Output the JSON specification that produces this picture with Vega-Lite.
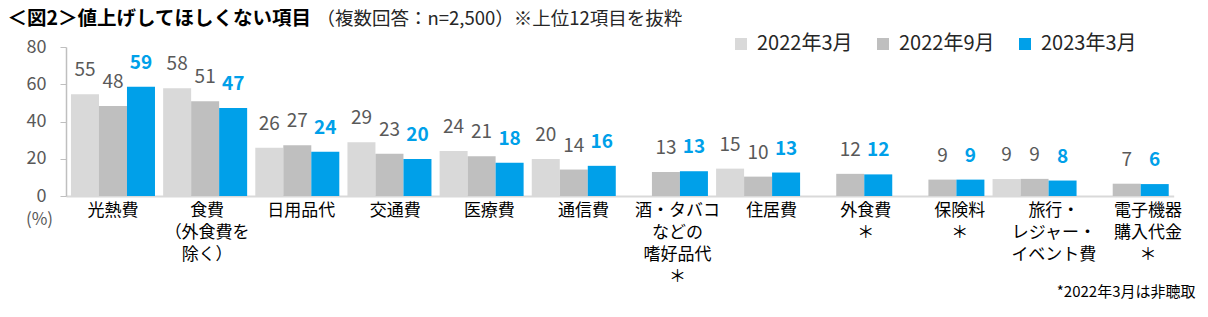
{
  "$schema": "https://vega.github.io/schema/vega-lite/v6.json",
  "width": 1129,
  "height": 149,
  "autosize": {"type": "none"},
  "padding": {"left": 66, "top": 47, "right": 13, "bottom": 121},
  "background": "#ffffff",
  "config": {
    "font": "Noto Sans CJK JP",
    "view": {"stroke": null},
    "axis": {"grid": false},
    "axisY": {"labelOverlap": false, "labelBound": false, "labelFlush": false}
  },
  "data": {
    "values": [
      {"item": "光熱費", "period": "2022年3月", "value": 54.6},
      {"item": "光熱費", "period": "2022年9月", "value": 48.3},
      {"item": "光熱費", "period": "2023年3月", "value": 58.6},
      {"item": "食費|（外食費を|除く）", "period": "2022年3月", "value": 57.9},
      {"item": "食費|（外食費を|除く）", "period": "2022年9月", "value": 50.9},
      {"item": "食費|（外食費を|除く）", "period": "2023年3月", "value": 47.3},
      {"item": "日用品代", "period": "2022年3月", "value": 25.9},
      {"item": "日用品代", "period": "2022年9月", "value": 27.3},
      {"item": "日用品代", "period": "2023年3月", "value": 23.7},
      {"item": "交通費", "period": "2022年3月", "value": 28.9},
      {"item": "交通費", "period": "2022年9月", "value": 22.7},
      {"item": "交通費", "period": "2023年3月", "value": 19.9},
      {"item": "医療費", "period": "2022年3月", "value": 24.2},
      {"item": "医療費", "period": "2022年9月", "value": 21.4},
      {"item": "医療費", "period": "2023年3月", "value": 17.8},
      {"item": "通信費", "period": "2022年3月", "value": 19.9},
      {"item": "通信費", "period": "2022年9月", "value": 14.2},
      {"item": "通信費", "period": "2023年3月", "value": 16.2},
      {"item": "酒・タバコ|などの|嗜好品代|＊", "period": "2022年9月", "value": 12.9},
      {"item": "酒・タバコ|などの|嗜好品代|＊", "period": "2023年3月", "value": 13.3},
      {"item": "住居費", "period": "2022年3月", "value": 14.7},
      {"item": "住居費", "period": "2022年9月", "value": 10.4},
      {"item": "住居費", "period": "2023年3月", "value": 12.6},
      {"item": "外食費|＊", "period": "2022年9月", "value": 11.9},
      {"item": "外食費|＊", "period": "2023年3月", "value": 11.6},
      {"item": "保険料|＊", "period": "2022年9月", "value": 8.8},
      {"item": "保険料|＊", "period": "2023年3月", "value": 8.8},
      {"item": "旅行・|レジャー・|イベント費", "period": "2022年3月", "value": 9.1},
      {"item": "旅行・|レジャー・|イベント費", "period": "2022年9月", "value": 9.2},
      {"item": "旅行・|レジャー・|イベント費", "period": "2023年3月", "value": 8.3},
      {"item": "電子機器|購入代金|＊", "period": "2022年9月", "value": 6.6},
      {"item": "電子機器|購入代金|＊", "period": "2023年3月", "value": 6.4}
    ]
  },
  "resolve": {"scale": {"x": "independent"}, "axis": {"x": "independent", "y": "independent"}},
  "layer": [
    {
      "mark": {"type": "bar"},
      "encoding": {
        "x": {
          "field": "item", "type": "nominal", "sort": null,
          "scale": {
            "domain": ["光熱費", "食費|（外食費を|除く）", "日用品代", "交通費", "医療費", "通信費", "酒・タバコ|などの|嗜好品代|＊", "住居費", "外食費|＊", "保険料|＊", "旅行・|レジャー・|イベント費", "電子機器|購入代金|＊"],
            "range": [0, 1107.7], "paddingInner": 0.0884, "paddingOuter": 0.054
          },
          "axis": {"labels": false, "ticks": false, "domain": true, "domainColor": "#D9D9D9", "domainWidth": 2, "title": null}
        },
        "xOffset": {
          "field": "period", "type": "nominal",
          "scale": {"domain": ["2022年3月", "2022年9月", "2023年3月"], "paddingInner": 0, "paddingOuter": 0}
        },
        "y": {
          "field": "value", "type": "quantitative",
          "scale": {"domain": [0, 80], "nice": false},
          "axis": {
            "values": [0, 20, 40, 60, 80], "tickSize": 6, "tickColor": "#BFBFBF",
            "domainColor": "#BFBFBF", "domainWidth": 1.5, "labelPadding": 14,
            "labelFontSize": 18, "labelColor": "#595959", "labelOverlap": false,
            "labelBound": false, "labelFlush": false,
            "title": "(%)", "titleAngle": 0, "titleX": -27, "titleY": 172,
            "titleAlign": "center", "titleBaseline": "middle", "titleFontSize": 17,
            "titleFontWeight": "normal", "titleColor": "#595959"
          }
        },
        "color": {
          "field": "period", "type": "nominal",
          "scale": {"domain": ["2022年3月", "2022年9月", "2023年3月"], "range": ["#D9D9D9", "#BFBFBF", "#00A0E9"]},
          "legend": {
            "title": null, "orient": "none", "direction": "horizontal",
            "legendX": 665, "legendY": -13, "labelFontSize": 20, "labelColor": "#262626",
            "symbolType": "square", "symbolSize": 144, "symbolStrokeWidth": 0,
            "columnPadding": 20, "labelOffset": 6
          }
        }
      }
    },
    {
      "transform": [{"filter": "datum.period !== '2023年3月'"}],
      "mark": {"type": "text", "baseline": "alphabetic", "dy": -18, "fontSize": 19, "color": "#595959"},
      "encoding": {
        "x": {
          "field": "item", "type": "nominal", "sort": null,
          "scale": {
            "domain": ["光熱費", "食費|（外食費を|除く）", "日用品代", "交通費", "医療費", "通信費", "酒・タバコ|などの|嗜好品代|＊", "住居費", "外食費|＊", "保険料|＊", "旅行・|レジャー・|イベント費", "電子機器|購入代金|＊"],
            "range": [0, 1107.7], "paddingInner": 0.0884, "paddingOuter": 0.054
          },
          "axis": null
        },
        "xOffset": {"field": "period", "type": "nominal"},
        "y": {"field": "value", "type": "quantitative", "axis": null},
        "text": {"field": "value", "type": "quantitative", "format": ".0f"}
      }
    },
    {
      "transform": [{"filter": "datum.period === '2023年3月'"}],
      "mark": {"type": "text", "baseline": "alphabetic", "dy": -18, "fontSize": 19, "fontWeight": "bold", "color": "#00A0E9"},
      "encoding": {
        "x": {
          "field": "item", "type": "nominal", "sort": null,
          "scale": {
            "domain": ["光熱費", "食費|（外食費を|除く）", "日用品代", "交通費", "医療費", "通信費", "酒・タバコ|などの|嗜好品代|＊", "住居費", "外食費|＊", "保険料|＊", "旅行・|レジャー・|イベント費", "電子機器|購入代金|＊"],
            "range": [0, 1107.7], "paddingInner": 0.0884, "paddingOuter": 0.054
          },
          "axis": null
        },
        "xOffset": {"field": "period", "type": "nominal"},
        "y": {"field": "value", "type": "quantitative", "axis": null},
        "text": {"field": "value", "type": "quantitative", "format": ".0f"}
      }
    },
    {
      "mark": {"type": "point", "opacity": 0},
      "encoding": {
        "x": {
          "field": "item", "type": "nominal", "sort": null,
          "scale": {
            "domain": ["光熱費", "食費|（外食費を|除く）", "日用品代", "交通費", "医療費", "通信費", "酒・タバコ|などの|嗜好品代|＊", "住居費", "外食費|＊", "保険料|＊", "旅行・|レジャー・|イベント費", "電子機器|購入代金|＊"],
            "type": "band", "paddingInner": 0, "paddingOuter": 0
          },
          "axis": {
            "orient": "bottom", "domain": false, "ticks": false, "labelAngle": 0,
            "labelExpr": "split(datum.label, '|')", "labelFontSize": 17, "labelColor": "#000000",
            "labelLineHeight": 22, "labelPadding": 6, "labelLimit": 0, "labelOverlap": false,
            "labelBound": false, "labelFlush": false,
            "title": "*2022年3月は非聴取", "titleX": 1129, "titleY": 95, "titleAlign": "right",
            "titleBaseline": "middle", "titleFontSize": 15, "titleFontWeight": "normal", "titleColor": "#000000"
          }
        }
      }
    },
    {
      "mark": {"type": "point", "opacity": 0},
      "encoding": {
        "x": {
          "field": "item", "type": "nominal", "sort": null,
          "axis": {
            "orient": "top", "domain": false, "ticks": false, "labels": false,
            "title": "＜図2＞値上げしてほしくない項目", "titleX": -59, "titleY": -29,
            "titleAlign": "left", "titleBaseline": "middle", "titleFontSize": 19.5,
            "titleFontWeight": "bold", "titleColor": "#000000"
          }
        }
      }
    },
    {
      "mark": {"type": "point", "opacity": 0},
      "encoding": {
        "x": {
          "field": "item", "type": "nominal", "sort": null,
          "axis": {
            "orient": "top", "domain": false, "ticks": false, "labels": false,
            "title": "（複数回答：n=2,500）※上位12項目を抜粋", "titleX": 250, "titleY": -29,
            "titleAlign": "left", "titleBaseline": "middle", "titleFontSize": 18.5,
            "titleFontWeight": "normal", "titleColor": "#262626"
          }
        }
      }
    }
  ]
}
